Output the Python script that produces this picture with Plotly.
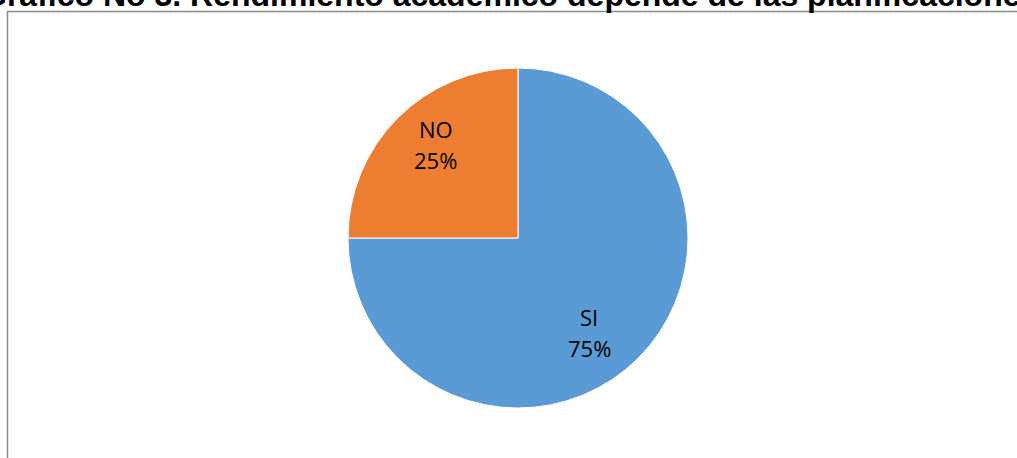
import math
import plotly.graph_objects as go

labels = ["SI", "NO"]
values = [75, 25]
colors = ["#5B9BD5", "#ED7D31"]
title_text = "Gráfico No 3. Rendimiento académico depende de las planificaciones"

W, H = 1017, 458
CX, CY, R = 518, 238, 170  # pie centre and radius in pixels
LABEL_R = 0.71             # label distance as a fraction of radius
LINE_GAP = 31              # pixel spacing between label lines
NUDGE = {"SI": (-14, 9), "NO": (3, -8)}  # small pixel nudges to mimic the original layout

fig = go.Figure()
fig.add_trace(go.Pie(
    labels=labels,
    values=values,
    sort=False,
    direction="clockwise",
    rotation=0,
    marker=dict(colors=colors, line=dict(color="white", width=1)),
    textinfo="none",
    showlegend=False,
    hoverinfo="skip",
    domain=dict(x=[(CX - R) / W, (CX + R) / W], y=[1 - (CY + R) / H, 1 - (CY - R) / H]),
))

label_font = dict(family="Open Sans, Liberation Sans, Arial", size=22, color="#000000")
total = sum(values)
start = 0.0
for lab, val in zip(labels, values):
    frac = val / total
    mid = (start + frac / 2) * 2 * math.pi
    start += frac
    dx, dy = NUDGE.get(lab, (0, 0))
    px = CX + LABEL_R * R * math.sin(mid) + dx
    py = CY - LABEL_R * R * math.cos(mid) + dy
    for line, off in ((lab, -LINE_GAP / 2), (f"{round(frac * 100)}%", LINE_GAP / 2)):
        fig.add_annotation(text=line, xref="paper", yref="paper",
                           x=px / W, y=1 - (py + off) / H, xanchor="center", yanchor="middle",
                           showarrow=False, font=label_font)

fig.add_shape(type="rect", xref="paper", yref="paper",
              x0=7.5 / W, x1=1.2, y0=-0.2, y1=1 - 11.5 / H,
              line=dict(color="#8C8C8C", width=1.5), fillcolor="rgba(0,0,0,0)")

fig.add_annotation(text="<b>" + title_text + "</b>", xref="paper", yref="paper",
                   x=510 / W, y=1 - 15 / H, xanchor="center", yanchor="bottom",
                   showarrow=False,
                   font=dict(family="Liberation Sans, Arial", size=32, color="#000000"))

fig.update_layout(
    width=W, height=H,
    margin=dict(l=0, r=0, t=0, b=0),
    paper_bgcolor="white", plot_bgcolor="white",
)

fig.write_html("out.html", config={"displayModeBar": False},
               post_script="document.body.style.margin='0';")
